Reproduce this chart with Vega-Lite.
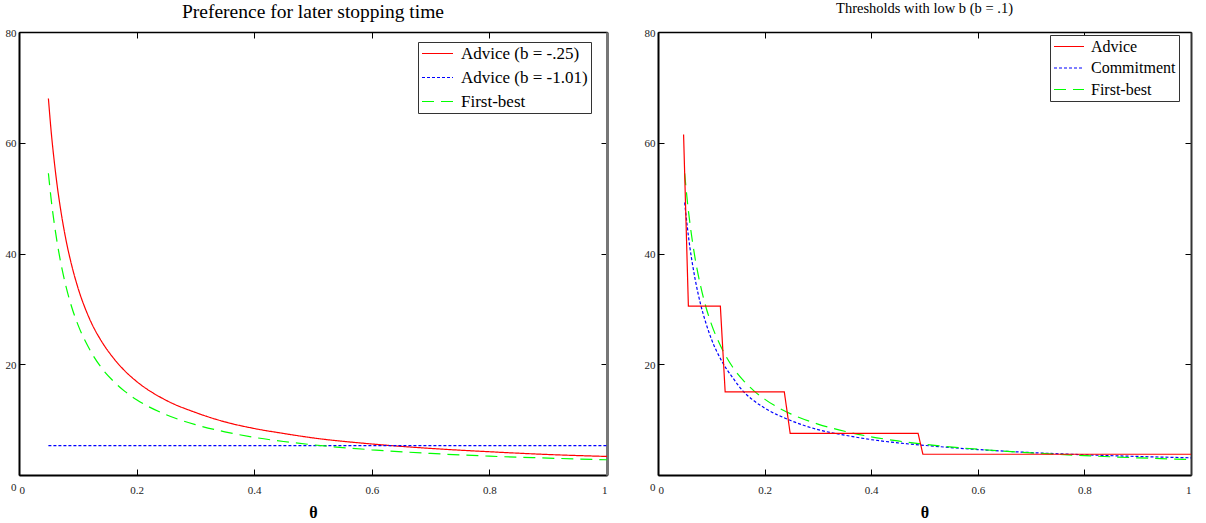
{
  "$schema": "https://vega.github.io/schema/vega-lite/v6.json",
  "background": "white",
  "padding": {"left": 5, "top": 0, "right": 5, "bottom": 0},
  "spacing": 34,
  "config": {
    "view": {"stroke": null},
    "axis": {
      "grid": false,
      "labelFont": "Liberation Serif",
      "labelFontSize": 11,
      "labelColor": "#222",
      "domainColor": "black",
      "domainWidth": 2,
      "tickColor": "black",
      "tickWidth": 1,
      "tickSize": -6,
      "labelPadding": 9,
      "titleFont": "Liberation Serif",
      "titleFontSize": 16,
      "titleFontWeight": "bold",
      "titleColor": "black"
    },
    "legend": {
      "symbolType": "stroke",
      "symbolStrokeWidth": 1.2,
      "labelFont": "Liberation Serif",
      "labelColor": "black",
      "strokeColor": "#333",
      "fillColor": "white",
      "title": null
    },
    "title": {"font": "Liberation Serif", "fontWeight": "normal", "color": "black", "anchor": "middle"}
  },
  "datasets": {
    "left": [
      {"theta": 0.05, "value": 68.0, "series": "Advice (b = -.25)"},
      {"theta": 0.055, "value": 61.7, "series": "Advice (b = -.25)"},
      {"theta": 0.06, "value": 56.6, "series": "Advice (b = -.25)"},
      {"theta": 0.065, "value": 52.2, "series": "Advice (b = -.25)"},
      {"theta": 0.07, "value": 48.5, "series": "Advice (b = -.25)"},
      {"theta": 0.08, "value": 42.4, "series": "Advice (b = -.25)"},
      {"theta": 0.09, "value": 37.7, "series": "Advice (b = -.25)"},
      {"theta": 0.1, "value": 33.9, "series": "Advice (b = -.25)"},
      {"theta": 0.12, "value": 28.2, "series": "Advice (b = -.25)"},
      {"theta": 0.14, "value": 24.2, "series": "Advice (b = -.25)"},
      {"theta": 0.16, "value": 21.2, "series": "Advice (b = -.25)"},
      {"theta": 0.18, "value": 18.8, "series": "Advice (b = -.25)"},
      {"theta": 0.2, "value": 16.9, "series": "Advice (b = -.25)"},
      {"theta": 0.25, "value": 13.5, "series": "Advice (b = -.25)"},
      {"theta": 0.3, "value": 11.3, "series": "Advice (b = -.25)"},
      {"theta": 0.35, "value": 9.6, "series": "Advice (b = -.25)"},
      {"theta": 0.4, "value": 8.4, "series": "Advice (b = -.25)"},
      {"theta": 0.45, "value": 7.5, "series": "Advice (b = -.25)"},
      {"theta": 0.5, "value": 6.7, "series": "Advice (b = -.25)"},
      {"theta": 0.6, "value": 5.6, "series": "Advice (b = -.25)"},
      {"theta": 0.7, "value": 4.8, "series": "Advice (b = -.25)"},
      {"theta": 0.8, "value": 4.2, "series": "Advice (b = -.25)"},
      {"theta": 0.9, "value": 3.7, "series": "Advice (b = -.25)"},
      {"theta": 1.0, "value": 3.35, "series": "Advice (b = -.25)"},
      {"theta": 0.05, "value": 5.3, "series": "Advice (b = -1.01)"},
      {"theta": 1.0, "value": 5.3, "series": "Advice (b = -1.01)"},
      {"theta": 0.05, "value": 54.5, "series": "First-best"},
      {"theta": 0.055, "value": 49.5, "series": "First-best"},
      {"theta": 0.06, "value": 45.4, "series": "First-best"},
      {"theta": 0.065, "value": 41.9, "series": "First-best"},
      {"theta": 0.07, "value": 38.9, "series": "First-best"},
      {"theta": 0.08, "value": 34.0, "series": "First-best"},
      {"theta": 0.09, "value": 30.2, "series": "First-best"},
      {"theta": 0.1, "value": 27.2, "series": "First-best"},
      {"theta": 0.12, "value": 22.7, "series": "First-best"},
      {"theta": 0.14, "value": 19.4, "series": "First-best"},
      {"theta": 0.16, "value": 17.0, "series": "First-best"},
      {"theta": 0.18, "value": 15.1, "series": "First-best"},
      {"theta": 0.2, "value": 13.6, "series": "First-best"},
      {"theta": 0.25, "value": 10.9, "series": "First-best"},
      {"theta": 0.3, "value": 9.1, "series": "First-best"},
      {"theta": 0.35, "value": 7.8, "series": "First-best"},
      {"theta": 0.4, "value": 6.8, "series": "First-best"},
      {"theta": 0.45, "value": 6.05, "series": "First-best"},
      {"theta": 0.5, "value": 5.45, "series": "First-best"},
      {"theta": 0.6, "value": 4.55, "series": "First-best"},
      {"theta": 0.7, "value": 3.9, "series": "First-best"},
      {"theta": 0.8, "value": 3.4, "series": "First-best"},
      {"theta": 0.9, "value": 3.05, "series": "First-best"},
      {"theta": 1.0, "value": 2.75, "series": "First-best"}
    ],
    "rightCurves": [
      {"theta": 0.05, "value": 49.2, "series": "Commitment"},
      {"theta": 0.055, "value": 44.8, "series": "Commitment"},
      {"theta": 0.06, "value": 41.0, "series": "Commitment"},
      {"theta": 0.065, "value": 37.9, "series": "Commitment"},
      {"theta": 0.07, "value": 35.2, "series": "Commitment"},
      {"theta": 0.08, "value": 30.8, "series": "Commitment"},
      {"theta": 0.09, "value": 27.4, "series": "Commitment"},
      {"theta": 0.1, "value": 24.6, "series": "Commitment"},
      {"theta": 0.12, "value": 20.5, "series": "Commitment"},
      {"theta": 0.14, "value": 17.6, "series": "Commitment"},
      {"theta": 0.16, "value": 15.1, "series": "Commitment"},
      {"theta": 0.18, "value": 13.4, "series": "Commitment"},
      {"theta": 0.2, "value": 12.1, "series": "Commitment"},
      {"theta": 0.25, "value": 9.8, "series": "Commitment"},
      {"theta": 0.3, "value": 8.2, "series": "Commitment"},
      {"theta": 0.35, "value": 7.2, "series": "Commitment"},
      {"theta": 0.4, "value": 6.4, "series": "Commitment"},
      {"theta": 0.45, "value": 5.8, "series": "Commitment"},
      {"theta": 0.5, "value": 5.35, "series": "Commitment"},
      {"theta": 0.6, "value": 4.6, "series": "Commitment"},
      {"theta": 0.7, "value": 4.05, "series": "Commitment"},
      {"theta": 0.8, "value": 3.65, "series": "Commitment"},
      {"theta": 0.9, "value": 3.35, "series": "Commitment"},
      {"theta": 1.0, "value": 3.1, "series": "Commitment"},
      {"theta": 0.05, "value": 54.5, "series": "First-best"},
      {"theta": 0.055, "value": 49.5, "series": "First-best"},
      {"theta": 0.06, "value": 45.4, "series": "First-best"},
      {"theta": 0.065, "value": 41.9, "series": "First-best"},
      {"theta": 0.07, "value": 38.9, "series": "First-best"},
      {"theta": 0.08, "value": 34.1, "series": "First-best"},
      {"theta": 0.09, "value": 30.3, "series": "First-best"},
      {"theta": 0.1, "value": 27.3, "series": "First-best"},
      {"theta": 0.12, "value": 22.8, "series": "First-best"},
      {"theta": 0.14, "value": 19.5, "series": "First-best"},
      {"theta": 0.16, "value": 17.1, "series": "First-best"},
      {"theta": 0.18, "value": 15.2, "series": "First-best"},
      {"theta": 0.2, "value": 13.7, "series": "First-best"},
      {"theta": 0.25, "value": 11.0, "series": "First-best"},
      {"theta": 0.3, "value": 9.2, "series": "First-best"},
      {"theta": 0.35, "value": 7.9, "series": "First-best"},
      {"theta": 0.4, "value": 6.9, "series": "First-best"},
      {"theta": 0.45, "value": 6.15, "series": "First-best"},
      {"theta": 0.5, "value": 5.55, "series": "First-best"},
      {"theta": 0.6, "value": 4.65, "series": "First-best"},
      {"theta": 0.7, "value": 4.0, "series": "First-best"},
      {"theta": 0.8, "value": 3.5, "series": "First-best"},
      {"theta": 0.9, "value": 3.1, "series": "First-best"},
      {"theta": 1.0, "value": 2.8, "series": "First-best"}
    ],
    "rightAdvice": [
      {"theta": 0.048, "value": 61.5, "series": "Advice"},
      {"theta": 0.057, "value": 30.5, "series": "Advice"},
      {"theta": 0.117, "value": 30.5, "series": "Advice"},
      {"theta": 0.126, "value": 15.0, "series": "Advice"},
      {"theta": 0.237, "value": 15.0, "series": "Advice"},
      {"theta": 0.248, "value": 7.5, "series": "Advice"},
      {"theta": 0.488, "value": 7.5, "series": "Advice"},
      {"theta": 0.497, "value": 3.75, "series": "Advice"},
      {"theta": 1.0, "value": 3.75, "series": "Advice"}
    ]
  },
  "hconcat": [
    {
      "title": {"text": "Preference for later stopping time", "fontSize": 19.5, "offset": 5},
      "width": 588,
      "height": 443,
      "data": {"name": "left"},
      "layer": [
        {
          "mark": {"type": "line", "interpolate": "monotone", "strokeWidth": 1.2},
          "encoding": {
            "x": {"field": "theta", "type": "quantitative", "scale": {"domain": [0, 1], "nice": false},
                  "axis": {"orient": "bottom", "values": [0, 0.2, 0.4, 0.6, 0.8, 1], "format": "~g", "title": "θ", "titlePadding": 9, "labelPadding": 15}},
            "y": {"field": "value", "type": "quantitative", "scale": {"domain": [0, 80], "nice": false},
                  "axis": {"orient": "left", "values": [0, 20, 40, 60, 80], "title": null,
                           "labelOffset": {"condition": {"test": "datum.value == 0", "value": 12}, "value": 1}}},
            "color": {"field": "series", "type": "nominal",
                      "scale": {"domain": ["Advice (b = -.25)", "Advice (b = -1.01)", "First-best"], "range": ["#ff0000", "#0000ff", "#00ff00"]},
                      "legend": {"orient": "none", "legendX": 399, "legendY": 10, "labelFontSize": 17, "symbolSize": 961, "clipHeight": 17, "padding": 3, "rowPadding": 6, "labelOffset": 7}},
            "strokeDash": {"field": "series", "type": "nominal",
                           "scale": {"domain": ["Advice (b = -.25)", "Advice (b = -1.01)", "First-best"], "range": [[1, 0], [3, 2], [12, 7]]},
                           "legend": {"orient": "none", "legendX": 399, "legendY": 10, "labelFontSize": 17, "symbolSize": 961, "clipHeight": 17, "padding": 3, "rowPadding": 6, "labelOffset": 7}}
          }
        },
        {
          "mark": {"type": "line", "opacity": 0},
          "encoding": {
            "x": {"field": "theta", "type": "quantitative", "axis": {"orient": "top", "values": [0, 0.2, 0.4, 0.6, 0.8, 1], "labels": false, "title": null, "domainWidth": 1.5}},
            "y": {"field": "value", "type": "quantitative", "axis": {"orient": "right", "values": [0, 20, 40, 60, 80], "labels": false, "title": null, "domainColor": "#777", "domainWidth": 3}}
          }
        }
      ],
      "resolve": {"axis": {"x": "independent", "y": "independent"}}
    },
    {
      "title": {"text": "Thresholds with low b (b = .1)", "fontSize": 14.5, "offset": 11},
      "width": 533,
      "height": 443,
      "layer": [
        {
          "data": {"name": "rightCurves"},
          "mark": {"type": "line", "interpolate": "monotone", "strokeWidth": 1.2},
          "encoding": {
            "x": {"field": "theta", "type": "quantitative", "scale": {"domain": [0, 1], "nice": false},
                  "axis": {"orient": "bottom", "values": [0, 0.2, 0.4, 0.6, 0.8, 1], "format": "~g", "title": "θ", "titlePadding": 9, "labelPadding": 15}},
            "y": {"field": "value", "type": "quantitative", "scale": {"domain": [0, 80], "nice": false},
                  "axis": {"orient": "left", "values": [0, 20, 40, 60, 80], "title": null,
                           "labelOffset": {"condition": {"test": "datum.value == 0", "value": 12}, "value": 1}}},
            "color": {"field": "series", "type": "nominal",
                      "scale": {"domain": ["Advice", "Commitment", "First-best"], "range": ["#ff0000", "#0000ff", "#00ff00"]},
                      "legend": {"orient": "none", "legendX": 392, "legendY": 3, "labelFontSize": 16, "symbolSize": 900, "clipHeight": 17, "padding": 3, "rowPadding": 4.5, "labelOffset": 6}},
            "strokeDash": {"field": "series", "type": "nominal",
                           "scale": {"domain": ["Advice", "Commitment", "First-best"], "range": [[1, 0], [3, 2], [12, 7]]},
                           "legend": {"orient": "none", "legendX": 392, "legendY": 3, "labelFontSize": 16, "symbolSize": 900, "clipHeight": 17, "padding": 3, "rowPadding": 4.5, "labelOffset": 6}}
          }
        },
        {
          "data": {"name": "rightAdvice"},
          "mark": {"type": "line", "strokeWidth": 1.2},
          "encoding": {
            "x": {"field": "theta", "type": "quantitative", "axis": null},
            "y": {"field": "value", "type": "quantitative", "axis": null},
            "color": {"field": "series", "type": "nominal"},
            "strokeDash": {"field": "series", "type": "nominal"}
          }
        },
        {
          "data": {"name": "rightAdvice"},
          "mark": {"type": "line", "opacity": 0},
          "encoding": {
            "x": {"field": "theta", "type": "quantitative", "axis": {"orient": "top", "values": [0, 0.2, 0.4, 0.6, 0.8, 1], "labels": false, "title": null, "domainWidth": 1.5}},
            "y": {"field": "value", "type": "quantitative", "axis": {"orient": "right", "values": [0, 20, 40, 60, 80], "labels": false, "title": null, "domainColor": "#333", "domainWidth": 2}}
          }
        }
      ],
      "resolve": {"axis": {"x": "independent", "y": "independent"}}
    }
  ],
  "resolve": {"scale": {"color": "independent", "strokeDash": "independent"}}
}
